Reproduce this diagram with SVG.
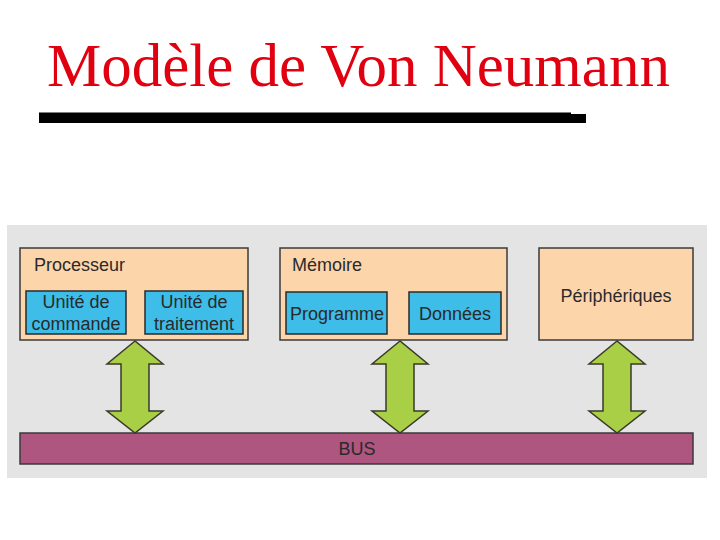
<svg xmlns="http://www.w3.org/2000/svg" width="720" height="540" viewBox="0 0 720 540">
<style>
.t{font-family:"Liberation Sans",Arial,sans-serif;font-size:18px;fill:#2a2a2a}
.c{text-anchor:middle}
.box{fill:#fdd5aa;stroke:#3a3a3a;stroke-width:1.5}
.in{fill:#3dbde8;stroke:#2a2a2a;stroke-width:1.5}
.arr{fill:#a8cf45;stroke:#3a3a2a;stroke-width:1.5;stroke-linejoin:miter}
</style>
<rect width="720" height="540" fill="#ffffff"/>
<text x="47" y="86" font-family="Liberation Serif,'Times New Roman',serif" font-size="61" fill="#e0000f">Modèle de Von Neumann</text>
<polygon points="39,112.5 571,112.5 571,114 586,114 586,123 39,123" fill="#000"/>
<rect x="7" y="225" width="700" height="253" fill="#e3e4e3"/>
<g id="processeur">
<rect class="box" x="20" y="248" width="228" height="92"/>
<text class="t" x="34" y="271">Processeur</text>
</g>
<g id="unite-commande">
<rect class="in" x="26" y="291" width="100" height="43"/>
<text class="t c" x="76" y="308">Unité de</text>
<text class="t c" x="76" y="330">commande</text>
</g>
<g id="unite-traitement">
<rect class="in" x="145" y="291" width="98" height="43"/>
<text class="t c" x="194" y="308">Unité de</text>
<text class="t c" x="194" y="330">traitement</text>
</g>
<g id="memoire">
<rect class="box" x="280" y="248" width="227" height="92"/>
<text class="t" x="292" y="271">Mémoire</text>
</g>
<g id="programme">
<rect class="in" x="286" y="292" width="101" height="42"/>
<text class="t c" x="337" y="320">Programme</text>
</g>
<g id="donnees">
<rect class="in" x="409" y="292" width="92" height="42"/>
<text class="t c" x="455" y="320">Données</text>
</g>
<g id="peripheriques">
<rect class="box" x="539" y="248" width="154" height="92"/>
<text class="t c" x="616" y="302">Périphériques</text>
</g>
<g id="bus">
<rect x="20" y="433" width="673" height="31" fill="#ae5580" stroke="#3a3a3a" stroke-width="1.5"/>
<text class="t c" x="357" y="455">BUS</text>
</g>
<g id="connectors">
<polygon class="arr" points="135,341 107,364 121,364 121,411 107,411 135,433 163,411 149,411 149,364 163,364"/>
<polygon class="arr" points="400,341 372,364 386,364 386,411 372,411 400,433 428,411 414,411 414,364 428,364"/>
<polygon class="arr" points="617,341 589,364 603,364 603,411 589,411 617,433 645,411 631,411 631,364 645,364"/>
</g>
</svg>
